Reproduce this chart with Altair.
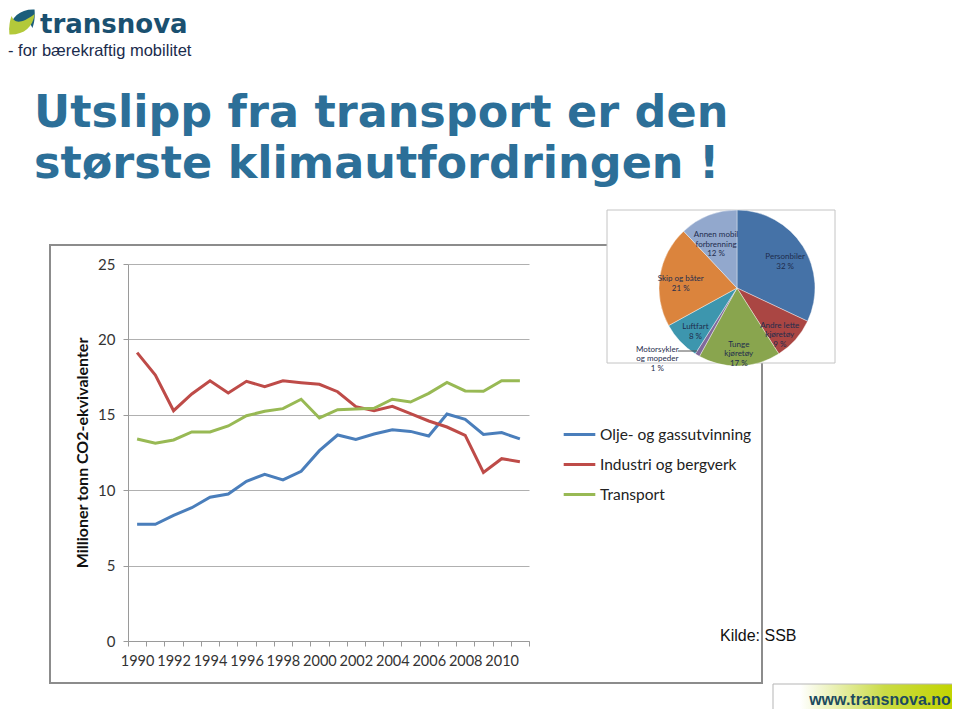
import altair as alt
import pandas as pd

# ---------------- data ----------------
years = list(range(1990, 2012))
olje = [7.74, 7.74, 8.33, 8.84, 9.53, 9.75, 10.59, 11.05, 10.68, 11.25, 12.62,
        13.66, 13.37, 13.73, 14.01, 13.90, 13.59, 15.05, 14.70, 13.70, 13.82, 13.40]
industri = [19.12, 17.64, 15.27, 16.38, 17.26, 16.45, 17.22, 16.87, 17.26, 17.13, 17.02,
            16.53, 15.54, 15.27, 15.56, 15.08, 14.59, 14.19, 13.64, 11.18, 12.09, 11.89]
transport = [13.40, 13.11, 13.33, 13.86, 13.86, 14.26, 14.94, 15.23, 15.41, 16.03, 14.79,
             15.34, 15.38, 15.43, 16.03, 15.85, 16.42, 17.15, 16.58, 16.56, 17.26, 17.26]
series_names = ["Olje- og gassutvinning", "Industri og bergverk", "Transport"]
y_ticks = [0, 5, 10, 15, 20, 25]

pie_cats = ["Personbiler", "Andre lette kjøretøy", "Tunge kjøretøy",
            "Motorsykler og mopeder", "Luftfart", "Skip og båter",
            "Annen mobil forbrenning"]
pie_pct = [32, 9, 17, 1, 8, 21, 12]
pie_labels = ["Personbiler\n32 %", "Andre lette\nkjøretøy\n9 %", "Tunge\nkjøretøy\n17 %",
              "Motorsykler\nog mopeder\n1 %", "Luftfart\n8 %", "Skip og båter\n21 %",
              "Annen mobil\nforbrenning\n12 %"]

# ---------------- styles ----------------
series_colors = ["#4A7EBB", "#BE4B48", "#98B954"]
pie_colors = ["#4572A7", "#AA4643", "#89A54E", "#80699B", "#3D96AE", "#DB843D", "#92A8CD"]

# plot area in page coordinates
OX, OY = 128, 264
PW, PH = 401, 377
PAGE_W, PAGE_H = 944, 701


def X(px):
    return px - OX


def Y(py):
    return py - OY


one = pd.DataFrame({"k": [0]})

rows = []
for name, vals in zip(series_names, [olje, industri, transport]):
    for yr, v in zip(years, vals):
        rows.append({"year": yr, "series": name, "value": v})
df = pd.DataFrame(rows)

pie_df = pd.DataFrame({"cat": pie_cats, "pct": pie_pct, "label": pie_labels,
                       "ord": list(range(len(pie_cats)))})

half_years = [y - 0.5 for y in years] + [years[-1] + 0.5]
band = PW / len(years)

# ---------------- line chart ----------------
lines = alt.Chart(df).mark_line(strokeWidth=3).encode(
    x=alt.X("year:Q",
            scale=alt.Scale(domain=[years[0] - 0.5, years[-1] + 0.5], nice=False, zero=False),
            axis=alt.Axis(values=half_years, title=None, grid=False,
                          labelExpr="((datum.value + 0.5) % 2 == 0 && datum.value < 2011) ? toString(datum.value + 0.5) : ''",
                          labelOffset=band / 2, labelFlush=False, labelOverlap=False,
                          labelFont="Lato", labelFontSize=14.5, labelColor="#333333",
                          labelPadding=8, tickSize=5, tickColor="#9a9a9a",
                          domainColor="#9a9a9a")),
    y=alt.Y("value:Q", scale=alt.Scale(domain=[0, 25], nice=False),
            axis=alt.Axis(values=y_ticks, title="Millioner tonn CO2-ekvivalenter",
                          titleFont="Lato", titleFontSize=16, titleFontWeight="bold",
                          titleColor="#111111", titlePadding=7,
                          labelFont="Lato", labelFontSize=15, labelColor="#333333",
                          labelPadding=8, tickSize=5, tickColor="#9a9a9a",
                          domainColor="#9a9a9a", gridColor="#b0b0b0")),
    color=alt.Color("series:N", sort=series_names,
                    scale=alt.Scale(domain=series_names, range=series_colors),
                    legend=alt.Legend(orient="none", legendX=X(562), legendY=Y(417),
                                      title=None, symbolType="stroke", symbolStrokeWidth=3,
                                      symbolSize=1000, labelFont="Lato", labelFontSize=15.5,
                                      labelColor="#222222", labelOffset=3, rowPadding=4,
                                      padding=0, labelLimit=300)),
)

# ---------------- decorations ----------------
def rect(x1, y1, x2, y2, **kw):
    return alt.Chart(one).mark_rect(**kw).encode(
        x=alt.value(X(x1)), x2=alt.value(X(x2)), y=alt.value(Y(y1)), y2=alt.value(Y(y2)))


def txt(s, x, y, **kw):
    return alt.Chart(one).mark_text(text=s, **kw).encode(x=alt.value(X(x)), y=alt.value(Y(y)))


frame = rect(50, 245, 762, 683, fillOpacity=0, stroke="#8c8c8c", strokeWidth=2)
pie_box = rect(607, 210, 835, 363, fill="#ffffff", stroke="#c4c4c4", strokeWidth=1)

footer = rect(773, 684, 953, 712,
              fill=alt.Gradient(gradient="linear",
                                stops=[alt.GradientStop(color="#ffffff", offset=0),
                                       alt.GradientStop(color="#ffffff", offset=0.15),
                                       alt.GradientStop(color="#cadb45", offset=0.62),
                                       alt.GradientStop(color="#c2d400", offset=1)],
                                x1=0, x2=1, y1=0, y2=0),
              stroke="#b5b5b5", strokeWidth=1)
footer_text = txt("www.transnova.no", 880, 700, font="Liberation Sans", fontWeight="bold",
                  fontSize=16, color="#1c4a5e", align="center", baseline="middle")

title1 = txt("Utslipp fra transport er den", 34, 127, font="DejaVu Sans", fontWeight="bold",
             fontSize=44.5, color="#2C6F98", align="left", baseline="alphabetic")
title2 = txt("største klimautfordringen !", 34, 178, font="DejaVu Sans", fontWeight="bold",
             fontSize=44.5, color="#2C6F98", align="left", baseline="alphabetic")

logo_text = txt("transnova", 40, 33, font="DejaVu Sans", fontWeight="bold", fontSize=26,
                color="#1a5070", align="left", baseline="alphabetic")
logo_sub = txt("- for bærekraftig mobilitet", 8, 56, font="Liberation Sans", fontSize=16.5,
               color="#1a2b4c", align="left", baseline="alphabetic")

teal_path = "M -0.95 0.6 C -0.85 -0.4 -0.1 -1 0.95 -0.95 C 1.0 -0.35 0.92 0.15 0.78 0.45 C 0.62 -0.05 0.15 -0.25 -0.95 0.6 Z"
green_path = "M 0.95 -0.6 C 0.85 0.4 0.1 1 -0.95 0.95 C -1.0 0.35 -0.92 -0.15 -0.78 -0.45 C -0.62 0.05 -0.15 0.25 0.95 -0.6 Z"
icon_teal = alt.Chart(one).mark_point(shape=teal_path, filled=True, color="#1B5E7B",
                                      size=700, opacity=1).encode(
    x=alt.value(X(22)), y=alt.value(Y(22)))
icon_green = alt.Chart(one).mark_point(shape=green_path, filled=True, color="#B3C93A",
                                       size=700, opacity=1).encode(
    x=alt.value(X(22)), y=alt.value(Y(22)))

kilde = txt("Kilde: SSB", 720, 636, font="Liberation Sans", fontSize=16, color="#111111",
            align="left", baseline="middle")

# ---------------- pie ----------------
CX, CY = 737, 288
pie_base = alt.Chart(pie_df).encode(
    theta=alt.Theta("pct:Q", stack=True),
    order=alt.Order("ord:Q"),
    x=alt.value(X(CX)), y=alt.value(Y(CY)),
)
pie = pie_base.mark_arc(outerRadius=78, stroke="#ffffff", strokeWidth=0.4).encode(
    color=alt.Color("cat:N", scale=alt.Scale(domain=pie_cats, range=pie_colors), legend=None)
)
pie_in = pie_base.transform_calculate(
    lab="datum.pct > 1 ? datum.label : ''"
).mark_text(radius=57, lineBreak="\n", font="Lato", fontSize=8, color="#1F2D4D",
            align="center", baseline="middle", lineHeight=9.5).encode(text="lab:N")
pie_out = pie_base.transform_calculate(
    lab="datum.pct <= 1 ? datum.label : ''"
).mark_text(radius=80, dx=-39, dy=-7, lineBreak="\n", font="Lato", fontSize=8,
            color="#1F2D4D", align="center", baseline="middle", lineHeight=9.5).encode(text="lab:N")
leader = alt.Chart(one).mark_rule(color="#555555", strokeWidth=1).encode(
    x=alt.value(X(678)), x2=alt.value(X(697)), y=alt.value(Y(351)), y2=alt.value(Y(351)))

chart = alt.layer(
    frame, lines, kilde, pie_box, pie, pie_in, pie_out, leader,
    footer, footer_text, title1, title2, icon_teal, icon_green, logo_text, logo_sub,
).resolve_scale(color="independent").properties(
    width=PW, height=PH,
    autosize=alt.AutoSizeParams(type="none"),
    padding={"left": OX - 8, "top": OY - 8, "right": PAGE_W - (OX - 8) - PW,
             "bottom": PAGE_H - (OY - 8) - PH},
    background="#ffffff",
).configure_view(stroke=None)

chart.save("out.html", embed_options={"renderer": "svg", "actions": False})
